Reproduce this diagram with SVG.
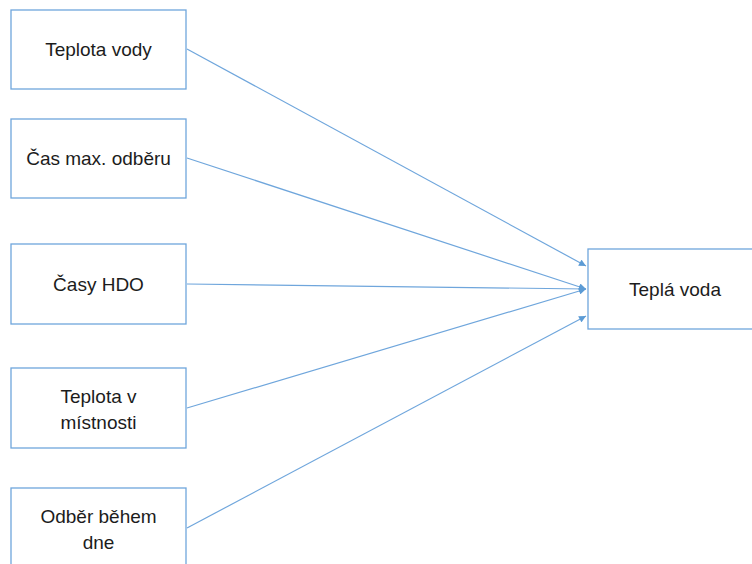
<svg xmlns="http://www.w3.org/2000/svg" width="752" height="564" viewBox="0 0 752 564">
  <style>
    .box { fill: #ffffff; stroke: #6fa6dc; stroke-width: 1.3; }
    .lbl { font-family: "Liberation Sans", Arial, sans-serif; font-size: 19px; fill: #1c1c1c; text-anchor: middle; }
    .link { stroke: #6fa6dc; stroke-width: 1.2; fill: none; marker-end: url(#arrow); }
  </style>
  <defs>
    <marker id="arrow" viewBox="0 0 10 10" refX="10" refY="5" markerWidth="8" markerHeight="7" markerUnits="userSpaceOnUse" orient="auto">
      <path d="M0,0 L10,5 L0,10 z" fill="#5b9bd5"/>
    </marker>
  </defs>
  <rect width="752" height="564" fill="#ffffff"/>

  <g id="connectors">
    <line class="link" x1="187" y1="49" x2="586" y2="266"/>
    <line class="link" x1="187" y1="158" x2="586" y2="289"/>
    <line class="link" x1="187" y1="284" x2="586" y2="289"/>
    <line class="link" x1="187" y1="408" x2="586" y2="289"/>
    <line class="link" x1="187" y1="528" x2="586" y2="316"/>
  </g>

  <g id="teplota-vody">
    <rect class="box" x="11" y="10" width="175" height="79"/>
    <text class="lbl" x="98.5" y="56">Teplota vody</text>
  </g>
  <g id="cas-max-odberu">
    <rect class="box" x="11" y="119" width="175" height="79"/>
    <text class="lbl" x="98.5" y="165">Čas max. odběru</text>
  </g>
  <g id="casy-hdo">
    <rect class="box" x="11" y="244" width="175" height="80"/>
    <text class="lbl" x="98.5" y="291">Časy HDO</text>
  </g>
  <g id="teplota-v-mistnosti">
    <rect class="box" x="11" y="368" width="175" height="80"/>
    <text class="lbl" x="98.5" y="403">Teplota v</text>
    <text class="lbl" x="98.5" y="429">místnosti</text>
  </g>
  <g id="odber-behem-dne">
    <rect class="box" x="11" y="488" width="175" height="90"/>
    <text class="lbl" x="98.5" y="523">Odběr během</text>
    <text class="lbl" x="98.5" y="549">dne</text>
  </g>
  <g id="tepla-voda">
    <rect class="box" x="588" y="249" width="175" height="80"/>
    <text class="lbl" x="675" y="296">Teplá voda</text>
  </g>
</svg>
